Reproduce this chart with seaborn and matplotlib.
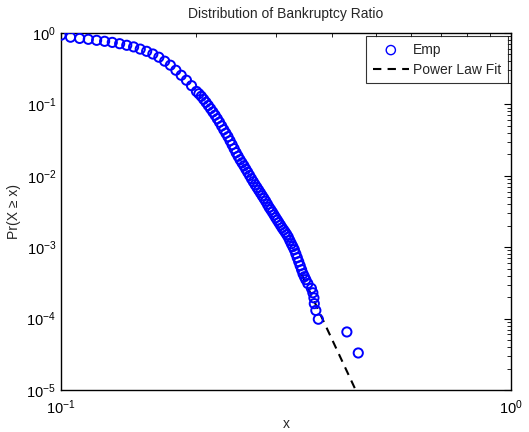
import numpy as np
import pandas as pd
import matplotlib
matplotlib.use("Agg")
import matplotlib.pyplot as plt
from matplotlib.ticker import NullFormatter
import seaborn as sns

# Empirical complementary CDF of the bankruptcy ratio
emp_x = [0.100, 0.105, 0.110, 0.115, 0.120, 0.125, 0.130, 0.135, 0.140, 0.145,
         0.150, 0.155, 0.160, 0.165, 0.170, 0.175, 0.180, 0.185, 0.190, 0.195,
         0.200, 0.2025, 0.205, 0.2075, 0.210, 0.2125, 0.215, 0.2175, 0.220, 0.2225,
         0.225, 0.2275, 0.230, 0.2325, 0.235, 0.2375, 0.240, 0.2425, 0.245, 0.2475,
         0.250, 0.2525, 0.255, 0.2575, 0.260, 0.2625, 0.265, 0.2675, 0.270, 0.2725,
         0.275, 0.2775, 0.280, 0.2825, 0.285, 0.2875, 0.290, 0.2925, 0.295, 0.2975,
         0.300, 0.3025, 0.305, 0.3075, 0.310, 0.3125, 0.315, 0.3175, 0.320, 0.3225,
         0.325, 0.3275, 0.330, 0.3325, 0.335, 0.3375, 0.340, 0.3425, 0.345, 0.3475,
         0.350,
         0.3536, 0.3601, 0.3628, 0.3648, 0.3655, 0.3684, 0.3731, 0.4318, 0.4577]
emp_ccdf = [0.932, 0.873, 0.840, 0.816, 0.790, 0.765, 0.739, 0.708, 0.673, 0.639,
            0.595, 0.554, 0.508, 0.458, 0.403, 0.354, 0.301, 0.256, 0.218, 0.183,
            0.152, 0.141, 0.130, 0.118, 0.107, 0.0965, 0.0871, 0.0784, 0.0706, 0.0630,
            0.0563, 0.0499, 0.0442, 0.0395, 0.0353, 0.0310, 0.0273, 0.0240, 0.0211, 0.0188,
            0.0168, 0.0152, 0.0138, 0.0124, 0.0112, 0.0101, 0.00911, 0.00827, 0.00751, 0.00687,
            0.00628, 0.00575, 0.00526, 0.00482, 0.00441, 0.00400, 0.00363, 0.00335, 0.00309, 0.00283,
            0.00259, 0.00239, 0.00220, 0.00203, 0.00187, 0.00174, 0.00162, 0.00150, 0.00138, 0.00124,
            0.00112, 0.00102, 0.000923, 0.000811, 0.000713, 0.000627, 0.000551, 0.000484, 0.000425, 0.000386,
            0.000351,
            3.1e-4, 2.65e-4, 2.3e-4, 1.95e-4, 1.62e-4, 1.3e-4, 9.8e-5, 6.5e-5, 3.3e-5]

# Fitted power-law tail: Pr(X >= x) = ccdf_at_xmin * (x / xmin) ** (1 - alpha)
fit_xmin = 0.343
fit_ccdf_at_xmin = 4.1e-4
fit_alpha = 14.5

sns.set_theme(style="white")
plt.rcParams["font.family"] = ["Liberation Sans", "DejaVu Sans"]
plt.rcParams["mathtext.fontset"] = "custom"
plt.rcParams["mathtext.rm"] = "Liberation Sans"
plt.rcParams["mathtext.it"] = "Liberation Sans:italic"

fig = plt.figure(figsize=(5.29, 4.32), dpi=100)
ax = fig.add_axes([61 / 529, 1 - 390 / 432, (511 - 61) / 529, (390 - 33) / 432])

emp = pd.DataFrame({"x": emp_x, "ccdf": emp_ccdf})
sns.scatterplot(data=emp, x="x", y="ccdf", ax=ax, marker="o", s=44,
                facecolor="none", edgecolor="#0000ff", linewidth=1.4,
                label="Emp", zorder=3)

fit_x = np.geomspace(fit_xmin, 1.0, 200)
fit_y = fit_ccdf_at_xmin * (fit_x / fit_xmin) ** (1 - fit_alpha)
fit = pd.DataFrame({"x": fit_x, "ccdf": fit_y})
sns.lineplot(data=fit, x="x", y="ccdf", ax=ax, color="black", linewidth=1.5,
             dashes=False, linestyle=(0, (4, 3)), label="Power Law Fit",
             estimator=None, sort=False, zorder=2)

ax.set_xscale("log")
ax.set_yscale("log")
ax.set_xlim(0.1, 1.0)
ax.set_ylim(1e-5, 1.0)
ax.xaxis.set_minor_formatter(NullFormatter())
ax.yaxis.set_minor_formatter(NullFormatter())

for side in ax.spines.values():
    side.set_color("black")
    side.set_linewidth(1.0)
ax.tick_params(which="both", direction="in", top=True, right=True,
               colors="black", labelsize=10.5)
ax.tick_params(which="major", length=5, width=0.8)
ax.tick_params(which="minor", length=3, width=0.6)
ax.tick_params(axis="x", which="both", pad=6)

ax.set_title("Distribution of Bankruptcy Ratio", fontsize=10, pad=11)
ax.set_xlabel("x", fontsize=10, labelpad=0)
ax.set_ylabel("Pr(X \u2265 x)", fontsize=10, labelpad=4)

leg = ax.legend(loc="upper right", fontsize=10, frameon=True, fancybox=False,
                edgecolor="black", borderaxespad=0.25, handlelength=2.6,
                borderpad=0.45, labelspacing=0.45, handletextpad=0.3)
leg.get_frame().set_linewidth(0.8)
for h in leg.legend_handles:
    if hasattr(h, "set_linewidth") and h.get_label() != "Power Law Fit":
        h.set_linewidth(1.0)

fig.savefig("out.png", dpi=100)
